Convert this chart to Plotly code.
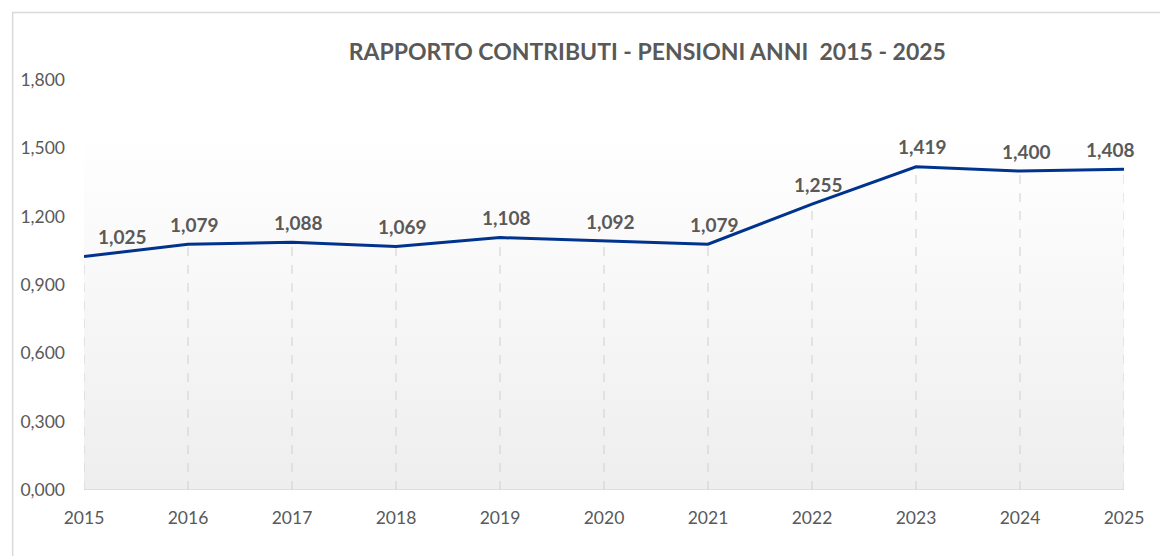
import plotly.graph_objects as go

years = [2015, 2016, 2017, 2018, 2019, 2020, 2021, 2022, 2023, 2024, 2025]
ratio = [1.025, 1.079, 1.088, 1.069, 1.108, 1.092, 1.079, 1.255, 1.419, 1.400, 1.408]
title_text = "RAPPORTO CONTRIBUTI - PENSIONI ANNI  2015 - 2025"
y_ticks = [0, 0.3, 0.6, 0.9, 1.2, 1.5, 1.8]

GREY = "#595959"
LINE = "#00338D"
FONT = "Lato"

W, H = 1160, 548  # page body has an 8px margin

fig = go.Figure()

# gradient background band
band_top = 1.57
fig.add_trace(go.Scatter(
    x=[years[0], years[-1]], y=[band_top, band_top],
    mode="lines", line=dict(width=0), fill="tozeroy",
    fillgradient=dict(type="vertical", start=0, stop=band_top,
                      colorscale=[[0, "#eeeeee"], [1, "#ffffff"]]),
    hoverinfo="skip", showlegend=False))

# drop lines
dx, dy = [], []
for x, v in zip(years, ratio):
    dx += [x, x, None]
    dy += [0, v, None]
fig.add_trace(go.Scatter(x=dx, y=dy, mode="lines",
                         line=dict(color="#d0d0d0", width=1, dash="dash"),
                         hoverinfo="skip", showlegend=False))

fig.add_trace(go.Scatter(x=years, y=ratio, mode="lines",
                         line=dict(color=LINE, width=3),
                         showlegend=False))

for i, (x, v) in enumerate(zip(years, ratio)):
    xa, xs = "center", 6
    if i == 0:
        xa, xs = "left", 12
    elif i == len(years) - 1:
        xa, xs = "center", -14
    fig.add_annotation(x=x, y=v, text="<b>" + f"{v:.3f}".replace(".", ",") + "</b>",
                       showarrow=False, xanchor=xa, yanchor="middle",
                       xshift=xs, yshift=20,
                       font=dict(family=FONT, size=19, color=GREY))

fig.add_shape(type="rect", xref="paper", yref="paper",
              x0=-0.0686, x1=1.2, y0=-0.5, y1=1.1646,
              line=dict(color="#d9d9d9", width=1.5), fillcolor="rgba(0,0,0,0)")

fig.update_layout(
    width=W, height=H,
    margin=dict(l=73, r=44, t=72, b=66),
    paper_bgcolor="white", plot_bgcolor="white",
    separators=",.",
    title=dict(text="<b>" + title_text + "</b>", x=(646 - 81) / 1043, xref="paper",
               xanchor="center", y=1 - 44 / H, yanchor="middle",
               font=dict(family=FONT, size=23, color=GREY)),
    xaxis=dict(range=[years[0], years[-1]], tickvals=years, showgrid=False,
               zeroline=False, showline=False, ticks="",
               ticklabelstandoff=15,
               tickfont=dict(family=FONT, size=17.5, color=GREY)),
    yaxis=dict(range=[0, 1.8], tickvals=y_ticks, tickformat=".3f",
               showgrid=False, zeroline=False, showline=False, ticks="",
               ticklabelstandoff=18,
               tickfont=dict(family=FONT, size=17.5, color=GREY)),
)
fig.add_shape(type="line", xref="x", yref="y", x0=years[0], x1=years[-1], y0=0, y1=0,
              line=dict(color="#d9d9d9", width=1.5))

fig.write_html("out.html")
